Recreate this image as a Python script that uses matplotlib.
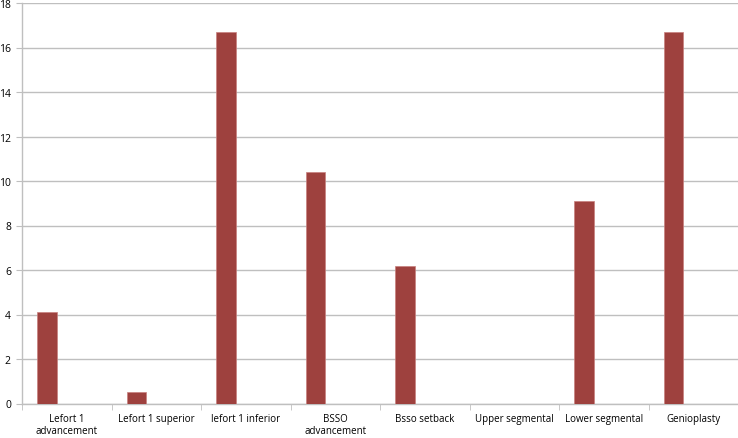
import numpy as np
import matplotlib.pyplot as plt
from matplotlib.ticker import MultipleLocator, FixedLocator

categories = ["Lefort 1\nadvancement", "Lefort 1 superior", "lefort 1 inferior",
              "BSSO\nadvancement", "Bsso setback", "Upper segmental",
              "Lower segmental", "Genioplasty"]
values = [4.1, 0.5, 16.7, 10.4, 6.2, 0.0, 9.1, 16.7]

plt.rcParams['font.family'] = ['Open Sans', 'DejaVu Sans']
fig = plt.figure(figsize=(7.38, 4.39), dpi=100)
ax = fig.add_axes([22/738, 34.5/439, 1 - 22/738, (404.5 - 4)/439])

x = np.arange(len(categories))
ax.bar(x - 0.22, values, width=0.22, color="#9E413E", edgecolor="#C8807E", linewidth=0.5, zorder=3)

ax.set_xlim(-0.5, len(categories) - 0.5)
ax.set_ylim(0, 18)
ax.yaxis.set_major_locator(MultipleLocator(2))
ax.grid(axis="y", color="#BFBFBF", linewidth=1, zorder=0)

ax.set_xticks(x)
ax.set_xticklabels(categories, fontsize=7, linespacing=1.15)
ax.xaxis.set_minor_locator(FixedLocator(np.arange(-0.5, len(categories) + 0.5, 1)))
ax.tick_params(axis="x", which="major", length=0, pad=7)
ax.tick_params(axis="x", which="minor", length=4, color="#BFBFBF", direction="out")
ax.tick_params(axis="y", length=4, color="#BFBFBF", labelsize=7.5, pad=4)

for s in ["top", "right"]:
    ax.spines[s].set_visible(False)
for s in ["left", "bottom"]:
    ax.spines[s].set_color("#BFBFBF")
    ax.spines[s].set_linewidth(1)

plt.savefig("out.png", dpi=100)
